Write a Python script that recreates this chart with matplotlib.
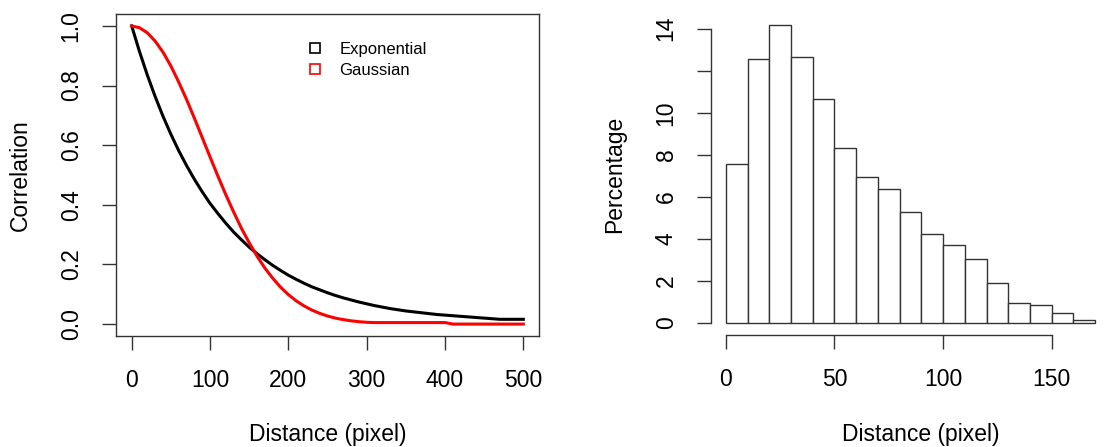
import matplotlib
matplotlib.use("Agg")
import matplotlib.pyplot as plt
from matplotlib.lines import Line2D

plt.rcParams['font.family'] = ['Liberation Sans', 'DejaVu Sans']

# correlation curves, every 10 px of distance
distance = list(range(0, 510, 10))
exponential = [1.000, 0.914, 0.835, 0.763, 0.697, 0.637, 0.582, 0.532, 0.486, 0.444,
               0.405, 0.371, 0.339, 0.309, 0.283, 0.258, 0.236, 0.216, 0.197, 0.180,
               0.164, 0.150, 0.137, 0.125, 0.115, 0.105, 0.096, 0.088, 0.081, 0.074,
               0.068, 0.062, 0.057, 0.052, 0.048, 0.044, 0.041, 0.038, 0.035, 0.032,
               0.030, 0.028, 0.026, 0.024, 0.022, 0.020, 0.018, 0.016, 0.016, 0.016,
               0.016]
gaussian = [1.000, 0.994, 0.977, 0.949, 0.912, 0.866, 0.812, 0.754, 0.691, 0.626,
            0.561, 0.497, 0.435, 0.377, 0.322, 0.273, 0.228, 0.188, 0.154, 0.124,
            0.099, 0.078, 0.061, 0.047, 0.036, 0.027, 0.020, 0.015, 0.011, 0.008,
            0.006, 0.005, 0.005, 0.005, 0.005, 0.005, 0.005, 0.005, 0.005, 0.005,
            0.005, 0.000, 0.000, 0.000, 0.000, 0.000, 0.000, 0.000, 0.000, 0.000,
            0.000]

# histogram of pair distances (percent per 10 px bin)
bin_left = list(range(0, 170, 10))
percentage = [7.55, 12.56, 14.16, 12.64, 10.64, 8.31, 6.93, 6.37, 5.30,
              4.25, 3.71, 3.03, 1.92, 0.95, 0.84, 0.48, 0.14]

W, H = 1108, 447
fig = plt.figure(figsize=(W / 100, H / 100), dpi=100)

def px_axes(left, top, right, bottom):
    return fig.add_axes([left / W, (H - bottom) / H, (right - left) / W, (bottom - top) / H])

fs = 16.5
line_col = '#333333'

# ---- left panel: correlation functions ----
ax1 = px_axes(116, 14, 539, 336)
ax1.plot(distance, exponential, color='black', lw=2.2)
ax1.plot(distance, gaussian, color='red', lw=2.2)
ax1.set_xlim(-20, 520)
ax1.set_ylim(-0.04, 1.04)
ax1.set_xticks([0, 100, 200, 300, 400, 500])
ax1.set_yticks([0.0, 0.2, 0.4, 0.6, 0.8, 1.0])
ax1.set_yticklabels(['0.0', '0.2', '0.4', '0.6', '0.8', '1.0'])
for s in ax1.spines.values():
    s.set_color(line_col)
    s.set_linewidth(1)

handles = [Line2D([], [], marker='s', ls='none', mfc='none', mec='black', ms=6.5, mew=1.2),
           Line2D([], [], marker='s', ls='none', mfc='none', mec='red', ms=6.5, mew=1.2)]
ax1.legend(handles, ['Exponential', 'Gaussian'], loc='upper left',
           bbox_to_anchor=(307 / W, (H - 42) / H), bbox_transform=fig.transFigure,
           frameon=False, fontsize=12, borderpad=0, borderaxespad=0,
           handlelength=1.0, handletextpad=0.95, labelspacing=0.38)

ax1.set_xlabel('Distance (pixel)', fontsize=fs)
ax1.set_ylabel('Correlation', fontsize=fs)
ax1.xaxis.set_label_coords(0.5, (H - 434 - (H - 336)) / 322, transform=ax1.transAxes)
ax1.yaxis.set_label_coords((20 - 116) / 423, 0.5)

# ---- right panel: histogram ----
ax2 = px_axes(711, 13.5, 1110, 335)
ax2.bar(bin_left, percentage, width=10, align='edge', facecolor='white',
        edgecolor=line_col, linewidth=1)
ax2.set_xlim(-6.8, 176.8)
ax2.set_ylim(-0.566, 14.726)
ax2.set_xticks([0, 50, 100, 150])
ax2.set_yticks([0, 2, 4, 6, 8, 10, 12, 14])
ax2.set_yticklabels(['0', '2', '4', '6', '8', '10', '', '14'])
ax2.spines['top'].set_visible(False)
ax2.spines['right'].set_visible(False)
ax2.spines['left'].set_bounds(0, 14)
ax2.spines['bottom'].set_bounds(0, 150)
for s in ('left', 'bottom'):
    ax2.spines[s].set_color(line_col)
    ax2.spines[s].set_linewidth(1)

ax2.set_xlabel('Distance (pixel)', fontsize=fs)
ax2.set_ylabel('Percentage', fontsize=fs)
ax2.xaxis.set_label_coords((921 - 711) / 399, (H - 434 - (H - 335)) / 321.5)
ax2.yaxis.set_label_coords((615 - 711) / 399, 0.5)

for ax in (ax1, ax2):
    ax.tick_params(direction='out', length=10, width=1, color=line_col,
                   labelsize=fs, pad=14)
    for lab in ax.get_yticklabels():
        lab.set_rotation(90)
        lab.set_va('center')
    ax.xaxis.label.set_va('center')
    ax.yaxis.label.set_va('center')

fig.savefig('out.png', dpi=100)
